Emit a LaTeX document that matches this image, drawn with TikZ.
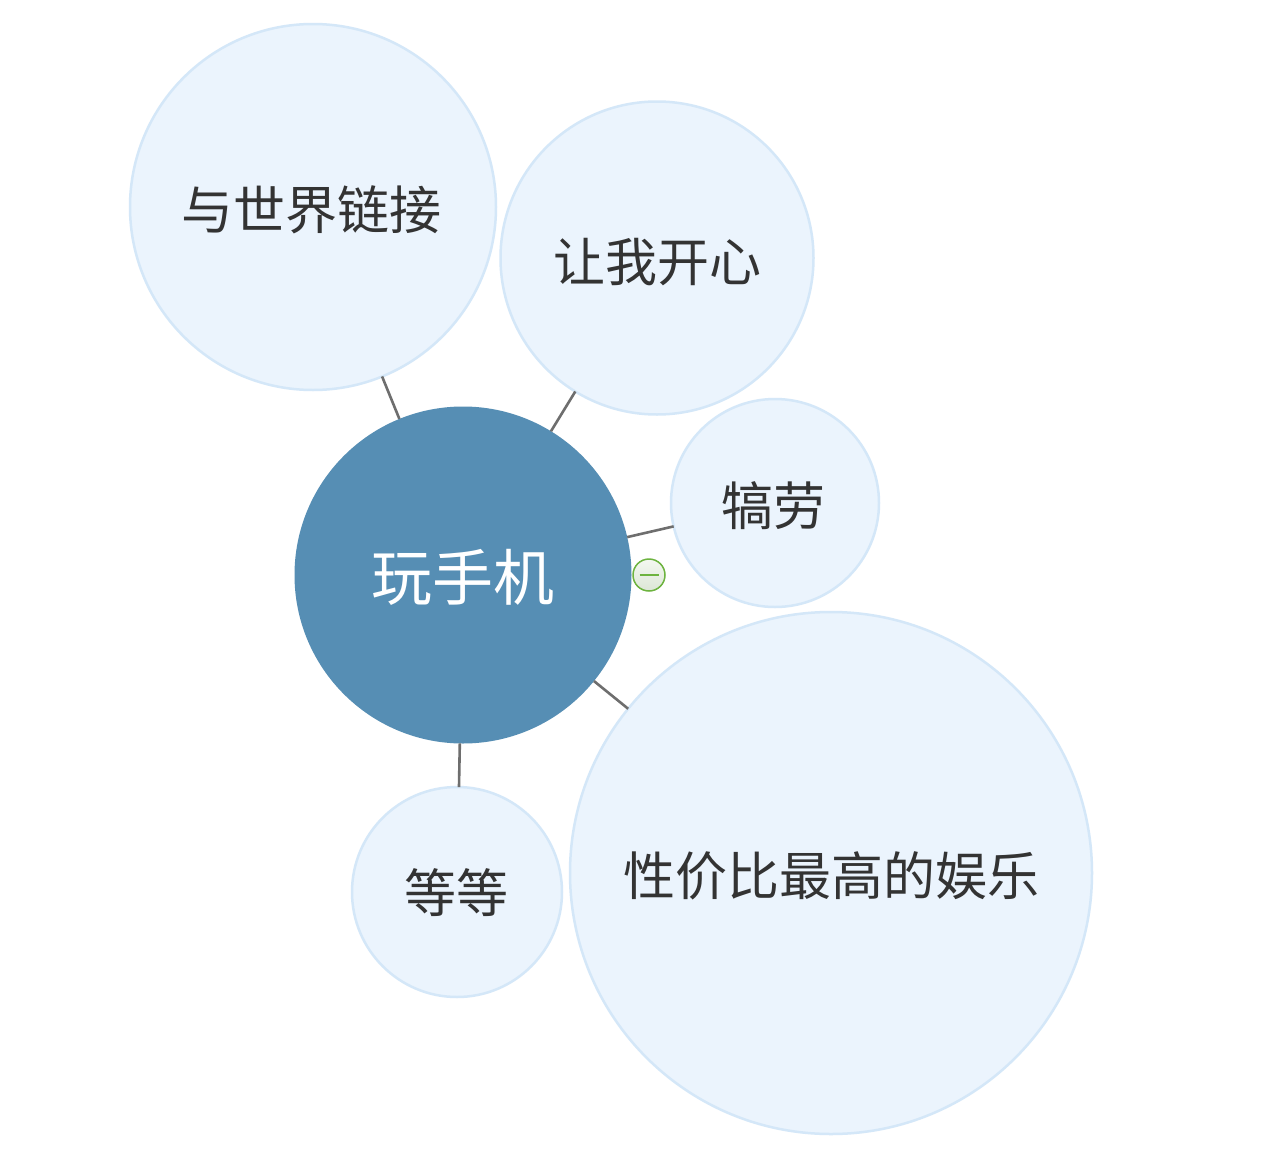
\documentclass[tikz,border=0pt]{standalone}
\usepackage{fontspec}
\newfontfamily\cjk{Noto Sans CJK SC}
\definecolor{bubblefill}{HTML}{EBF4FD}
\definecolor{bubbleline}{HTML}{D4E7F8}
\definecolor{centerfill}{HTML}{568EB4}
\definecolor{linkgray}{HTML}{6E6E6E}
\definecolor{textdark}{HTML}{333333}
\definecolor{markgreen}{HTML}{6DB33F}
\definecolor{markfillA}{HTML}{F4F8F1}
\definecolor{markfillB}{HTML}{DCE6D6}
\tikzset{
  bubble/.style={circle, fill=bubblefill, draw=bubbleline, line width=2.5pt,
    inner sep=0pt, outer sep=0pt, text=textdark, font=\cjk\fontsize{52}{60}\selectfont},
  hub/.style={circle, fill=centerfill, draw=none, inner sep=0pt, outer sep=0pt,
    text=white, font=\cjk\fontsize{61}{70}\selectfont},
  link/.style={draw=linkgray, line width=2.6pt}
}
\begin{document}
\begin{tikzpicture}[x=1pt,y=-1pt]
\useasboundingbox (0,0) rectangle (1278,1173);
\fill[white] (0,0) rectangle (1278,1173);
\node[hub, minimum size=337pt] (c) at (463,575) {};
\node[bubble, minimum size=366pt] (a) at (313,207) {};
\node[bubble, minimum size=313pt] (b) at (657,258) {};
\node[bubble, minimum size=208pt] (d) at (775,503) {};
\node[bubble, minimum size=522pt] (e) at (831,873) {};
\node[bubble, minimum size=210pt] (f) at (457,892) {};
\draw[link] (c) -- (a);
\draw[link] (c) -- (b);
\draw[link] (c) -- (d);
\draw[link] (c) -- (e);
\draw[link] (c) -- (f);
\node[text=white, font=\cjk\fontsize{61}{70}\selectfont] (ct) at (463,577) {玩手机};
\node[text=textdark, font=\cjk\fontsize{52}{60}\selectfont] (at) at (311,210) {与世界链接};
\node[text=textdark, font=\cjk\fontsize{52}{60}\selectfont] (bt) at (657,262) {让我开心};
\node[text=textdark, font=\cjk\fontsize{52}{60}\selectfont] (dt) at (773,506) {犒劳};
\node[text=textdark, font=\cjk\fontsize{52}{60}\selectfont] (et) at (831,876) {性价比最高的娱乐};
\node[text=textdark, font=\cjk\fontsize{52}{60}\selectfont] (ft) at (456,893) {等等};
\node[circle, minimum size=32pt, inner sep=0pt, draw=markgreen, line width=1.5pt,
  top color=markfillA, bottom color=markfillB] (m) at (649,575) {};
\draw[draw=markgreen, line width=2pt] ([xshift=-9.5pt]m.center) -- ([xshift=9.5pt]m.center);
\end{tikzpicture}
\end{document}
